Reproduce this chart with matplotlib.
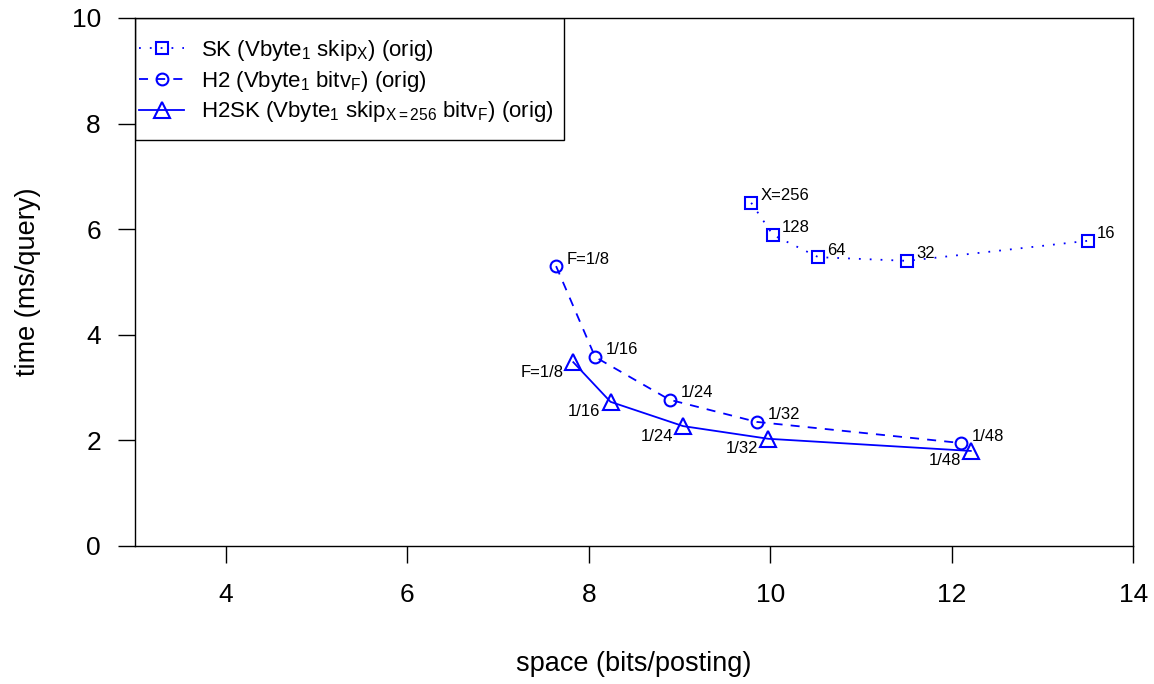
import matplotlib
matplotlib.use("Agg")
import matplotlib.pyplot as plt
from matplotlib.patches import Rectangle

plt.rcParams['font.family'] = ['Liberation Sans', 'DejaVu Sans']
plt.rcParams['mathtext.fontset'] = 'custom'
plt.rcParams['mathtext.rm'] = 'Liberation Sans'
plt.rcParams['mathtext.it'] = 'Liberation Sans'

# SK (skip lists, varying X)
sk_x = [9.79, 10.03, 10.53, 11.51, 13.50]
sk_y = [6.50, 5.89, 5.47, 5.40, 5.78]
sk_lab = ["X=256", "128", "64", "32", "16"]

# H2 (bitvectors, varying F)
h2_x = [7.64, 8.07, 8.89, 9.85, 12.10]
h2_y = [5.30, 3.58, 2.77, 2.35, 1.95]
h2_lab = ["F=1/8", "1/16", "1/24", "1/32", "1/48"]

# H2SK
h2sk_x = [7.83, 8.24, 9.04, 9.98, 12.21]
h2sk_y = [3.48, 2.73, 2.27, 2.03, 1.80]
h2sk_lab = ["F=1/8", "1/16", "1/24", "1/32", "1/48"]

blue = "#0000ff"

fig = plt.figure(figsize=(11.54, 6.84), dpi=100)
ax = fig.add_axes([0.117, 0.2018, 0.865, 0.7719])

ax.plot(sk_x, sk_y, linestyle=(0, (1, 5)), color=blue, lw=1.3,
        marker='s', ms=8.5, mfc='none', mec=blue, mew=1.5,
        label=r'SK (Vbyte$_1$ skip$_\mathrm{X}$) (orig)')
ax.plot(h2_x, h2_y, linestyle=(0, (5, 4.5)), color=blue, lw=1.3,
        marker='o', ms=8.5, mfc='none', mec=blue, mew=1.5,
        label=r'H2 (Vbyte$_1$ bitv$_\mathrm{F}$) (orig)')
ax.plot(h2sk_x, h2sk_y, linestyle='-', color=blue, lw=1.3,
        marker='^', ms=11.5, mfc='none', mec=blue, mew=1.5,
        label=r'H2SK (Vbyte$_1$ skip$_\mathrm{X=256}$ bitv$_\mathrm{F}$) (orig)')

# point labels
for x, y, t in zip(sk_x, sk_y, sk_lab):
    ax.annotate(t, (x, y), xytext=(9, 7), textcoords='offset pixels',
                fontsize=12, ha='left', va='center')
for x, y, t in zip(h2_x, h2_y, h2_lab):
    ax.annotate(t, (x, y), xytext=(11, 7), textcoords='offset pixels',
                fontsize=12, ha='left', va='center')
for x, y, t in zip(h2sk_x, h2sk_y, h2sk_lab):
    ax.annotate(t, (x, y), xytext=(-10, -10), textcoords='offset pixels',
                fontsize=12, ha='right', va='center')

ax.set_xlim(3, 14)
ax.set_ylim(0, 10)
ax.set_xticks([4, 6, 8, 10, 12, 14])
ax.set_yticks([0, 2, 4, 6, 8, 10])
ax.tick_params(direction='out', length=12.5, width=1, labelsize=19)
ax.tick_params(axis='y', pad=12)
ax.tick_params(axis='x', pad=14)
for s in ax.spines.values():
    s.set_linewidth(1)

ax.set_xlabel("space (bits/posting)", fontsize=19.5, labelpad=32)
ax.set_ylabel("time (ms/query)", fontsize=19.5, labelpad=22)

# legend box drawn by hand, R style
ax.add_patch(Rectangle((0, 0.769), 0.43, 0.231, transform=ax.transAxes,
                       fill=False, edgecolor='black', lw=1, zorder=5))
leg = ax.legend(loc='upper left', bbox_to_anchor=(0, 0.971), fontsize=16,
                frameon=False, handlelength=2.0, handletextpad=0.75,
                borderaxespad=0, labelspacing=0.26, borderpad=0.2)

fig.savefig("out.png", dpi=100)
